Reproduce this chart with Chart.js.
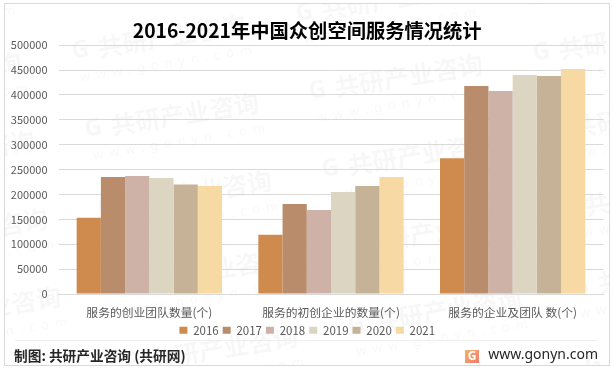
<!DOCTYPE html>
<html>
<head>
<meta charset="utf-8">
<script src="https://cdn.jsdelivr.net/npm/chart.js@4"></script>
<style>
html, body { margin: 0; padding: 0; background: #fff; }
canvas { display: block; }
</style>
</head>
<body>
<canvas id="grafico" width="614" height="370"></canvas>
<script>
const categorias = ['服务的创业团队数量(个)', '服务的初创企业的数量(个)', '服务的企业及团队 数(个)'];
const anos = ['2016', '2017', '2018', '2019', '2020', '2021'];
const cores = ['#CF8B4E', '#B98D6C', '#CFB2A7', '#DCD5C2', '#C6B297', '#F7D9A3'];
const valores2016 = [153000, 119000, 273000];
const valores2017 = [235000, 181000, 418000];
const valores2018 = [237000, 169000, 408000];
const valores2019 = [233000, 205000, 440000];
const valores2020 = [220000, 217000, 438000];
const valores2021 = [217000, 235000, 452000];
const series = [valores2016, valores2017, valores2018, valores2019, valores2020, valores2021];

const fonte = '"Noto Sans CJK SC", "Noto Sans", sans-serif';

// Marca d'água repetida, moldura e rodapé
const moldura = {
    id: 'moldura',
    beforeDraw(chart) {
        const ctx = chart.ctx;
        ctx.save();
        ctx.fillStyle = '#fff';
        ctx.fillRect(0, 0, 614, 370);
        ctx.beginPath();
        ctx.rect(5, 4, 604, 361);
        ctx.clip();
        for (let i = -2; i < 5; i++) {
            for (let j = -1; j < 6; j++) {
                marcaDagua(ctx, 72 + 224 * i + 13 * j, 52 - 38 * i + 78 * j);
            }
        }
        ctx.restore();
    },
    afterDraw(chart) {
        const ctx = chart.ctx;
        ctx.save();
        ctx.strokeStyle = '#d9d9d9';
        ctx.lineWidth = 1;
        ctx.strokeRect(4.5, 3.5, 605, 362);
        ctx.strokeStyle = '#eeeeee';
        ctx.beginPath();
        ctx.moveTo(15, 340.5);
        ctx.lineTo(598, 340.5);
        ctx.stroke();

        ctx.fillStyle = '#262626';
        ctx.textBaseline = 'middle';
        ctx.font = 'bold 13.7px ' + fonte;
        ctx.fillText('制图: 共研产业咨询 (共研网)', 14, 356);
        ctx.font = '14px "Noto Sans", sans-serif';
        ctx.textAlign = 'right';
        ctx.fillText('www.gonyn.com', 598, 355);

        // logo do rodapé
        const g = ctx.createLinearGradient(465, 350, 479, 364);
        g.addColorStop(0, '#F7B06C');
        g.addColorStop(1, '#EE7A6A');
        ctx.fillStyle = g;
        ctx.fillRect(465, 350, 14, 13);
        ctx.fillStyle = '#fff';
        ctx.textAlign = 'center';
        ctx.font = 'bold 12px "Noto Sans", sans-serif';
        ctx.fillText('G', 472, 356.5);
        ctx.restore();
    }
};

function marcaDagua(ctx, x, y) {
    ctx.save();
    ctx.translate(x, y);
    ctx.rotate(-0.16);
    ctx.fillStyle = 'rgba(0,0,0,0.03)';
    ctx.textBaseline = 'middle';
    ctx.font = 'bold 24px "Noto Sans", sans-serif';
    ctx.fillText('G', 0, 0);
    ctx.font = 'bold 25px ' + fonte;
    ctx.fillText('共研产业咨询', 26, 0);
    ctx.font = '13px "Noto Sans", sans-serif';
    ctx.letterSpacing = '6px';
    ctx.fillText('www.gonyn.com', 4, 27);
    ctx.restore();
}

const ctx = document.getElementById('grafico').getContext('2d');
new Chart(ctx, {
    type: 'bar',
    data: {
        labels: categorias,
        datasets: anos.map((ano, i) => ({
            label: ano,
            data: series[i],
            backgroundColor: cores[i],
            categoryPercentage: 0.8,
            barPercentage: 1
        }))
    },
    options: {
        responsive: false,
        animation: false,
        layout: { padding: { left: 11, right: 10.5, top: 19.5, bottom: 24 } },
        plugins: {
            title: {
                display: true,
                text: '2016-2021年中国众创空间服务情况统计',
                color: '#000',
                font: { family: fonte, size: 19.3, weight: 'bold' },
                padding: { top: 0, bottom: 2.5 }
            },
            legend: {
                position: 'bottom',
                labels: {
                    color: '#595959',
                    font: { family: fonte, size: 11.5 },
                    boxWidth: 8,
                    boxHeight: 7,
                    padding: 4
                }
            },
            tooltip: { enabled: false }
        },
        scales: {
            x: {
                grid: { display: false },
                border: { color: '#d9d9d9' },
                afterFit(scale) { scale.height = 26.5; },
                ticks: { color: '#595959', font: { family: fonte, size: 11.8 }, maxRotation: 0, padding: 3 }
            },
            y: {
                min: 0,
                max: 500000,
                afterFit(scale) { scale.width = 47.5; },
                grid: { color: '#d9d9d9', drawTicks: false },
                border: { display: false },
                ticks: {
                    stepSize: 50000,
                    color: '#595959',
                    font: { family: fonte, size: 11 },
                    padding: 11,
                    callback: v => String(v)
                }
            }
        }
    },
    plugins: [moldura]
});
</script>
</body>
</html>
